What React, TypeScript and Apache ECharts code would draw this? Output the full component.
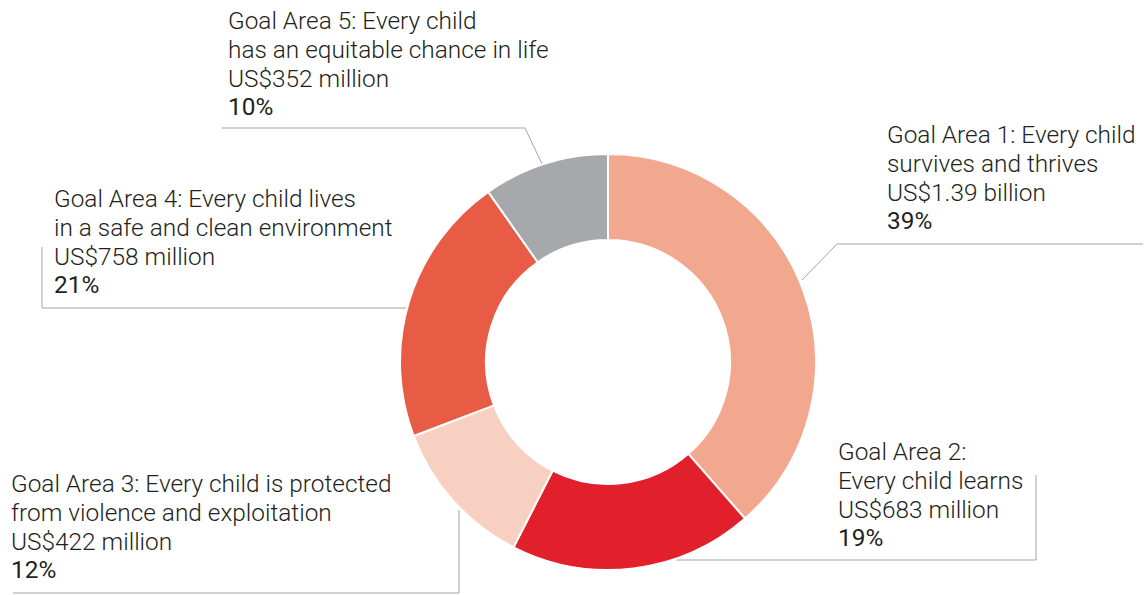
import React, { useEffect, useRef } from "react";
import * as echarts from "echarts";

// ---- data ----
const categories = [
  "Goal Area 1: Every child\nsurvives and thrives",
  "Goal Area 2:\nEvery child learns",
  "Goal Area 3: Every child is protected\nfrom violence and exploitation",
  "Goal Area 4: Every child lives\nin a safe and clean environment",
  "Goal Area 5: Every child\nhas an equitable chance in life",
];
// US$ millions
const valuesMillion = [1390, 683, 422, 758, 352];
const colors = ["#F2A88F", "#E2202B", "#F8D0C1", "#E85C45", "#A7A8AB"];

// ---- label layout (annotation placement) ----
const labelPlacement = [
  { x: 887, y: 120.5, line: [[802, 280], [837, 244], [1143, 244]] },
  { x: 838, y: 437.5, line: [[676, 560], [1036, 560], [1036, 475]] },
  { x: 11, y: 469.5, line: [[459, 510], [459, 593], [13, 593]] },
  { x: 54, y: 184.5, line: [[406, 308], [42, 308], [42, 247]] },
  { x: 228, y: 6.5, line: [[542, 164], [525, 128], [222, 128]] },
];

const total = valuesMillion.reduce((a, b) => a + b, 0);
const fmtAmount = (v: number) =>
  v >= 1000 ? `US$${(v / 1000).toFixed(2)} billion` : `US$${v} million`;

const FONT = "Roboto";
const FS = 24.4;
const LH = 28.6;

export default function App() {
  const ref = useRef<HTMLDivElement>(null);
  useEffect(() => {
    document.body.style.margin = "0";
    const chart = echarts.init(ref.current!, null, { renderer: "svg" });
    chart.setOption({
      animation: false,
      backgroundColor: "#ffffff",
      series: [
        {
          type: "pie",
          center: [608, 362],
          radius: [122, 208],
          startAngle: 90,
          clockwise: true,
          avoidLabelOverlap: false,
          itemStyle: { borderColor: "#ffffff", borderWidth: 2 },
          data: categories.map((name, i) => ({
            name,
            value: valuesMillion[i],
            itemStyle: { color: colors[i] },
          })),
          label: {
            show: true,
            position: "outside",
            formatter: (p: any) => {
              const lines = (p.name as string).split("\n").map((l) => `{a|${l}}`);
              const pct = Math.round((p.value / total) * 100);
              return [...lines, `{a|${fmtAmount(p.value)}}`, `{b|${pct}%}`].join("\n");
            },
            rich: {
              a: {
                fontFamily: FONT,
                fontWeight: 300,
                fontSize: FS,
                lineHeight: LH,
                color: "#231F20",
              },
              b: {
                fontFamily: FONT,
                fontWeight: 400,
                fontSize: FS,
                lineHeight: LH,
                color: "#231F20",
              },
            },
          },
          labelLine: {
            show: true,
            lineStyle: { color: "#A2A4A7", width: 1 },
          },
          labelLayout: (params: any) => {
            const p = labelPlacement[params.dataIndex];
            return {
              x: p.x,
              y: p.y,
              align: "left",
              verticalAlign: "top",
              labelLinePoints: p.line,
            };
          },
        },
      ],
    });
    return () => chart.dispose();
  }, []);
  return <div ref={ref} style={{ width: 1146, height: 595 }} />;
}
